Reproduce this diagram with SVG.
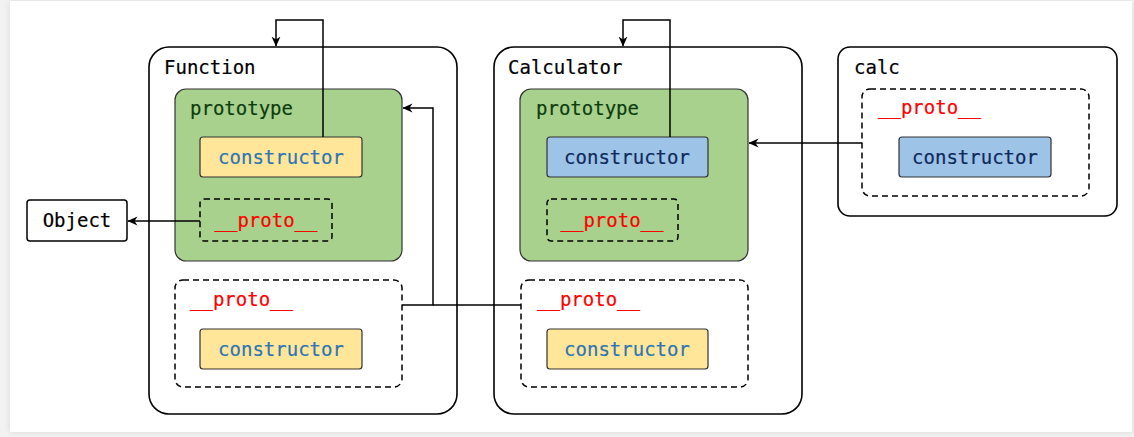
<svg xmlns="http://www.w3.org/2000/svg" width="1134" height="437" viewBox="0 0 1134 437">
<defs>
<filter id="sh" x="-5%" y="-5%" width="110%" height="110%"><feGaussianBlur stdDeviation="3"/></filter>
<marker id="arr" viewBox="0 0 10 10" refX="9.5" refY="5" markerWidth="10" markerHeight="10" markerUnits="userSpaceOnUse" orient="auto">
<path d="M0,0.5 L10,5 L0,9.5 L3,5 z" fill="#000"/>
</marker>
</defs>
<style>
.mono{font-family:"DejaVu Sans Mono","Liberation Mono",monospace;font-size:19px;stroke-width:0.2px}
.outer{fill:#fff;stroke:#000;stroke-width:1.6}
.green{fill:#a9d18e;stroke:#333;stroke-width:1.2}
.dash{fill:none;stroke:#000;stroke-width:1.5;stroke-dasharray:6,4}
.yel{fill:#ffe699;stroke:#333;stroke-width:1.2}
.blu{fill:#9dc3e6;stroke:#333;stroke-width:1.2}
.t{fill:#000;stroke:#000}
.tp{fill:#0d3d0d;stroke:#0d3d0d}
.tr{fill:#ff0000;stroke:#ff0000}
.ty{fill:#2e75b6;stroke:#2e75b6}
.tb{fill:#0e2a5c;stroke:#0e2a5c}
.conn{fill:none;stroke:#000;stroke-width:1.5}
</style>
<rect x="0" y="0" width="1134" height="437" fill="#f2f2f2"/>
<rect x="10" y="1" width="1122" height="431" fill="#d8d8d8" filter="url(#sh)"/>
<rect x="10" y="1" width="1122" height="431" fill="#fff"/>

<g id="object">
<rect x="27" y="200" width="100" height="41" rx="3" fill="#fff" stroke="#000" stroke-width="1.5"/>
<text class="mono t" x="77" y="227" text-anchor="middle">Object</text>
</g>

<g id="function">
<rect class="outer" x="149" y="47" width="308" height="367" rx="20"/>
<text class="mono t" x="164" y="74">Function</text>
<g id="function-prototype">
<rect class="green" x="175" y="89" width="227" height="172" rx="11"/>
<text class="mono tp" x="190" y="115">prototype</text>
<rect class="yel" x="200" y="137" width="162" height="40" rx="3"/>
<text class="mono ty" x="281" y="164" text-anchor="middle">constructor</text>
<rect class="dash" x="200" y="199" width="132" height="42" rx="4"/>
<text class="mono tr" x="266" y="227" text-anchor="middle">__proto__</text>
</g>
<g id="function-proto">
<rect class="dash" x="175" y="280" width="227" height="107" rx="8"/>
<text class="mono tr" x="190" y="306">__proto__</text>
<rect class="yel" x="200" y="329" width="162" height="40" rx="3"/>
<text class="mono ty" x="281" y="356" text-anchor="middle">constructor</text>
</g>
</g>

<g id="calculator">
<rect class="outer" x="494" y="47" width="308" height="367" rx="20"/>
<text class="mono t" x="508" y="74">Calculator</text>
<g id="calculator-prototype">
<rect class="green" x="520" y="89" width="228" height="172" rx="11"/>
<text class="mono tp" x="536" y="115">prototype</text>
<rect class="blu" x="547" y="137" width="161" height="40" rx="3"/>
<text class="mono tb" x="627" y="164" text-anchor="middle">constructor</text>
<rect class="dash" x="547" y="199" width="131" height="42" rx="4"/>
<text class="mono tr" x="612" y="227" text-anchor="middle">__proto__</text>
</g>
<g id="calculator-proto">
<rect class="dash" x="521" y="280" width="227" height="107" rx="8"/>
<text class="mono tr" x="537" y="306">__proto__</text>
<rect class="yel" x="547" y="329" width="161" height="40" rx="3"/>
<text class="mono ty" x="627" y="356" text-anchor="middle">constructor</text>
</g>
</g>

<g id="calc">
<rect class="outer" x="838" y="47" width="279" height="169" rx="12"/>
<text class="mono t" x="854" y="74">calc</text>
<g id="calc-proto">
<rect class="dash" x="862" y="89" width="227" height="107" rx="8"/>
<text class="mono tr" x="878" y="114">__proto__</text>
<rect class="blu" x="899" y="137" width="152" height="40" rx="3"/>
<text class="mono tb" x="975" y="164" text-anchor="middle">constructor</text>
</g>
</g>

<g id="connectors">
<path class="conn" d="M323,137 V20 H276 V46" marker-end="url(#arr)"/>
<path class="conn" d="M670,137 V20 H623 V46" marker-end="url(#arr)"/>
<path class="conn" d="M200,221 H128" marker-end="url(#arr)"/>
<path class="conn" d="M402,305 H433 V108 H403" marker-end="url(#arr)"/>
<path class="conn" d="M521,305 H433"/>
<path class="conn" d="M862,143 H749" marker-end="url(#arr)"/>
</g>
</svg>
